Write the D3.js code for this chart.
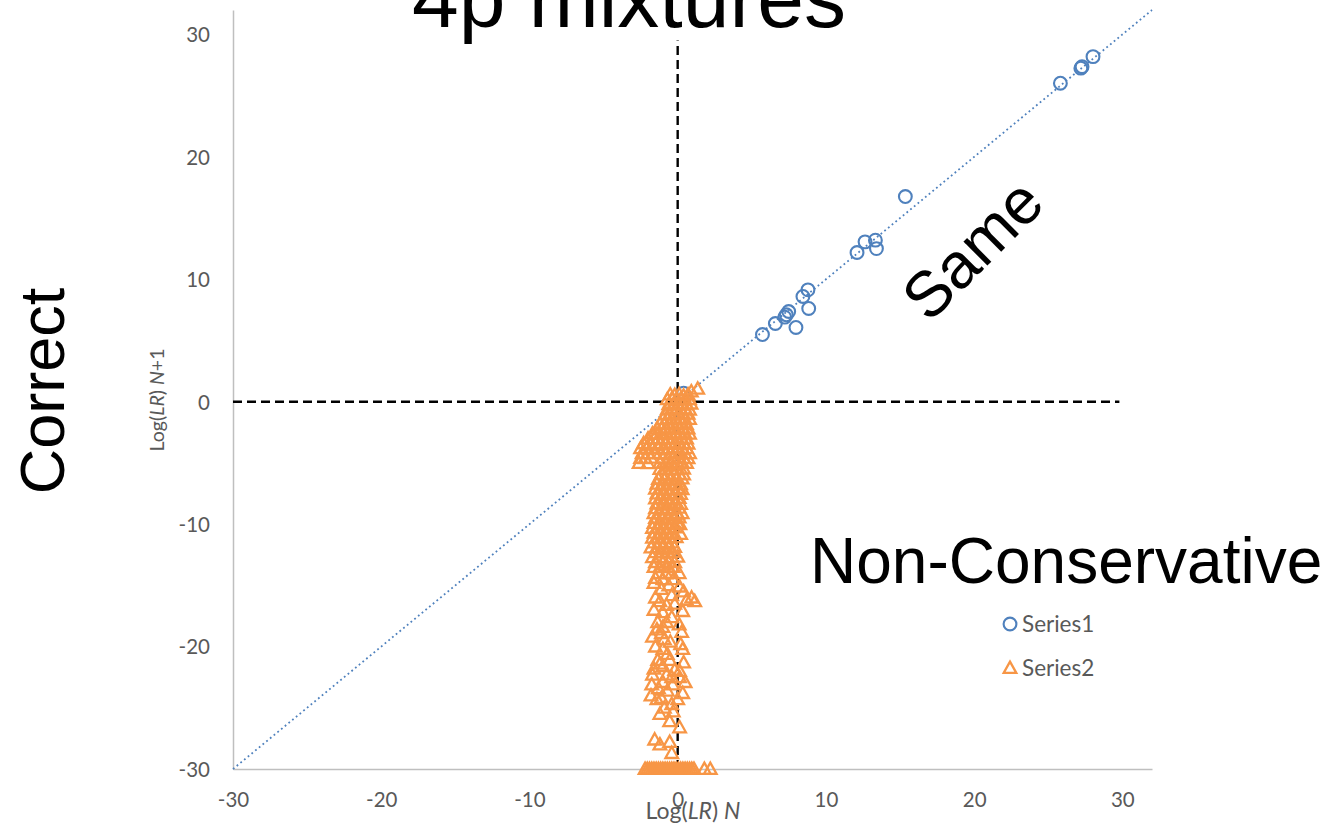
<!DOCTYPE html>
<html>
<head>
<meta charset="utf-8">
<script src="https://cdn.jsdelivr.net/npm/d3@7"></script>
<style>
  html, body { margin: 0; padding: 0; background: #fff; }
  svg { display: block; }
</style>
</head>
<body>
<svg id="chart" width="1328" height="823"></svg>
<script>
// Log(LR) with N contributors (x) against N+1 contributors (y)
const tickValues = [-30, -20, -10, 0, 10, 20, 30];
const axisDomain = [-30, 32];

// Series1: pairs [logLR N, logLR N+1]
const series1 = [
  [28.02, 28.19], [27.28, 27.37], [27.2, 27.25], [25.82, 26.02],
  [15.36, 16.76], [12.64, 13.06], [13.34, 13.2], [13.41, 12.51], [12.10, 12.19],
  [8.79, 9.14], [8.45, 8.6], [8.84, 7.62], [7.49, 7.37], [7.33, 7.1], [7.22, 6.91],
  [7.98, 6.07], [6.59, 6.39], [5.72, 5.49], [0.4, 0.7]
];

// Series2: pairs [logLR N, logLR N+1]
const series2 = [
  [1.35, 1.06], [0.92, 0.84],
  [-0.5, 0.6], [-0.2, 0.55], [0.1, 0.62], [0.4, 0.5], [0.7, 0.6],
  [-0.7, 0.2], [-0.4, 0.25], [-0.1, 0.15], [0.2, 0.22], [0.5, 0.18], [0.8, 0.2],
  [-0.6, -0.2], [-0.3, -0.25], [0.0, -0.18], [0.3, -0.2], [0.6, -0.22], [0.9, -0.15],
  [-0.7, -0.6], [-0.4, -0.55], [-0.1, -0.62], [0.2, -0.6], [0.5, -0.58], [0.8, -0.65],
  [-0.8, -1.0], [-0.5, -1.05], [-0.2, -0.95], [0.1, -1.0], [0.4, -1.02], [0.7, -0.98],
  [-1.0, -1.4], [-0.7, -1.38], [-0.4, -1.45], [-0.1, -1.4], [0.2, -1.35], [0.5, -1.42], [0.8, -1.4],
  [-1.2, -1.8], [-0.9, -1.82], [-0.6, -1.78], [-0.3, -1.85], [0.0, -1.8], [0.3, -1.76], [0.6, -1.84],
  [-1.4, -2.2], [-1.1, -2.18], [-0.8, -2.25], [-0.5, -2.2], [-0.2, -2.15], [0.1, -2.22], [0.4, -2.2], [0.7, -2.18],
  [-1.7, -2.6], [-1.4, -2.62], [-1.0, -2.58], [-0.7, -2.6], [-0.4, -2.65], [-0.1, -2.6], [0.2, -2.55], [0.5, -2.6], [0.8, -2.62],
  [-2.0, -3.0], [-1.6, -3.02], [-1.3, -2.98], [-1.0, -3.05], [-0.6, -3.0], [-0.3, -2.95], [0.0, -3.0], [0.3, -3.04], [0.6, -3.0],
  [-2.3, -3.4], [-1.9, -3.38], [-1.5, -3.42], [-1.2, -3.4], [-0.8, -3.36], [-0.5, -3.4], [-0.2, -3.45], [0.1, -3.4], [0.4, -3.38], [0.7, -3.42],
  [-2.5, -3.8], [-2.1, -3.82], [-1.7, -3.78], [-1.3, -3.8], [-0.9, -3.85], [-0.6, -3.8], [-0.3, -3.76], [0.0, -3.8], [0.3, -3.82], [0.6, -3.8],
  [-2.4, -4.2], [-2.0, -4.22], [-1.6, -4.18], [-1.2, -4.2], [-0.8, -4.25], [-0.5, -4.2], [-0.2, -4.16], [0.1, -4.2], [0.5, -4.22], [0.8, -4.2],
  [-2.5, -4.6], [-2.2, -4.62], [-1.8, -4.58], [-1.0, -4.6], [-0.6, -4.65], [-0.3, -4.6], [0.0, -4.56], [0.4, -4.6], [0.7, -4.62],
  [-2.6, -5.0], [-2.0, -5.02], [-1.2, -4.98], [-0.8, -5.0], [-0.4, -5.05], [0.0, -5.0], [0.3, -4.96], [0.6, -5.0],
  [-1.2, -5.5], [-0.8, -5.48], [-0.4, -5.52], [0.0, -5.5], [0.4, -5.46],
  [-1.1, -5.9], [-0.7, -5.92], [-0.3, -5.88], [0.1, -5.9], [0.4, -5.94],
  [-1.3, -6.3], [-0.9, -6.28], [-0.5, -6.32], [-0.1, -6.3], [0.3, -6.26],
  [-1.4, -6.7], [-1.0, -6.72], [-0.6, -6.68], [-0.2, -6.7], [0.2, -6.74],
  [-1.5, -7.1], [-1.1, -7.08], [-0.7, -7.12], [-0.3, -7.1], [0.1, -7.06], [0.3, -7.14],
  [-1.4, -7.5], [-1.0, -7.52], [-0.6, -7.48], [-0.2, -7.5], [0.2, -7.54],
  [-1.5, -7.9], [-1.1, -7.88], [-0.7, -7.92], [-0.3, -7.9], [0.1, -7.86],
  [-1.4, -8.3], [-1.0, -8.32], [-0.6, -8.28], [-0.2, -8.3], [0.2, -8.34],
  [-1.5, -8.7], [-1.1, -8.68], [-0.7, -8.72], [-0.3, -8.7], [0.1, -8.66],
  [-1.6, -9.1], [-1.2, -9.12], [-0.8, -9.08], [-0.4, -9.1], [0.0, -9.14], [0.3, -9.1],
  [-1.5, -9.5], [-1.1, -9.48], [-0.7, -9.52], [-0.3, -9.5], [0.1, -9.46],
  [-1.6, -9.9], [-1.2, -9.92], [-0.8, -9.88], [-0.4, -9.9], [0.0, -9.94], [0.15, -10.0],
  [-1.7, -10.3], [-1.3, -10.28], [-0.9, -10.32], [-0.5, -10.3], [-0.1, -10.26],
  [-1.6, -10.7], [-1.2, -10.72], [-0.8, -10.68], [-0.4, -10.7], [0.2, -10.8],
  [-1.7, -11.1], [-1.3, -11.08], [-0.9, -11.12], [-0.5, -11.1], [-0.1, -11.06],
  [-1.6, -11.5], [-1.2, -11.52], [-0.8, -11.48], [-0.4, -11.5],
  [-1.8, -11.9], [-1.4, -11.88], [-1.0, -11.92], [-0.6, -11.9], [-0.2, -11.86],
  [-1.5, -12.3], [-1.1, -12.32], [-0.7, -12.28], [-0.3, -12.3],
  [-1.7, -12.7], [-1.2, -12.68], [-0.8, -12.72], [-0.4, -12.7], [0.0, -12.66],
  [-1.5, -13.1], [-1.0, -13.12], [-0.6, -13.08], [-0.2, -13.1],
  [-1.6, -13.5], [-1.2, -13.52], [-0.7, -13.48], [-0.3, -13.5],
  [-1.3, -14.0], [-0.8, -14.02], [-0.4, -13.98], [0.1, -14.0],
  [-1.5, -14.4], [-1.0, -14.5], [-0.3, -14.5], [0.13, -15.1],
  [-1.1, -15.3], [-0.4, -15.8], [0.94, -16.0], [1.15, -16.3], [-1.2, -16.3],
  [-0.75, -16.6], [0.34, -17.1], [-1.0, -17.2], [-1.35, -18.0], [-0.75, -18.0],
  [0.27, -18.8], [-1.1, -18.9], [-1.4, -18.6], [-0.9, -19.4], [0.34, -20.2],
  [-1.0, -20.2], [-1.35, -21.1], [-0.54, -21.1], [-1.0, -21.6], [-0.2, -21.9],
  [0.13, -22.0], [-1.7, -22.3], [-0.75, -22.3], [0.13, -22.5], [-1.75, -23.1],
  [-1.0, -22.9], [-0.34, -23.1], [0.34, -23.8], [-1.4, -24.3], [-1.1, -24.2],
  [-0.4, -24.7], [-0.54, -26.1], [0.13, -26.6], [-1.55, -27.6], [-1.2, -28.0],
  [-0.54, -27.8], [-0.4, -28.7],
  [-1.6, -14.8], [-0.6, -15.0], [0.4, -15.5], [-1.5, -16.0], [-0.2, -16.5],
  [0.6, -16.2], [-1.6, -17.0], [-0.4, -17.6], [0.1, -18.2], [-1.0, -18.4],
  [-1.7, -19.2], [-0.5, -19.6], [0.2, -19.8], [-1.5, -20.0], [-0.7, -20.6],
  [-1.2, -21.4], [0.4, -21.3], [-1.6, -21.8], [-0.4, -22.5], [-1.3, -23.4],
  [-0.7, -23.6], [0.5, -22.9], [-1.8, -24.0], [-0.9, -25.0], [0.0, -24.3],
  [-1.2, -25.5], [-0.3, -25.3],
  [-2.2, -30], [-2.05, -30], [-1.9, -30], [-1.75, -30], [-1.6, -30], [-1.45, -30],
  [-1.3, -30], [-1.15, -30], [-1.0, -30], [-0.85, -30], [-0.7, -30], [-0.55, -30],
  [-0.4, -30], [-0.25, -30], [-0.1, -30], [0.05, -30], [0.2, -30], [0.35, -30],
  [0.5, -30], [0.65, -30], [0.8, -30], [0.95, -30], [1.1, -30],
  [1.8, -30], [2.2, -30]
];

// Reference guides: y = x trend and the two zero lines
const diagonalLine = [[-30, -30], [32, 32]];
const verticalGuide = [[0, -30], [0, 29.5]];
const horizontalGuide = [[-30, 0], [29.8, 0]];

const legendItems = ["Series1", "Series2"];

const blue = "#4F81BD";
const orange = "#F79646";
const tickColor = "#595959";
const axisColor = "#BFBFBF";
const labelFont = "Lato, 'Open Sans', sans-serif";
const bigFont = "'Liberation Sans', Arial, sans-serif";

const svg = d3.select("#chart");

const x = d3.scaleLinear().domain(axisDomain).range([233, 1152]);
const y = d3.scaleLinear().domain(axisDomain).range([769, 10]);

const fmt = d => String(d);

// Axes
const xAxis = svg.append("g")
  .attr("transform", `translate(0,${y(-30)})`)
  .call(d3.axisBottom(x).tickValues(tickValues).tickSize(0).tickPadding(23).tickFormat(fmt));
const yAxis = svg.append("g")
  .attr("transform", `translate(${x(-30)},0)`)
  .call(d3.axisLeft(y).tickValues(tickValues).tickSize(0).tickPadding(23).tickFormat(fmt));

[xAxis, yAxis].forEach(g => {
  g.select(".domain").attr("stroke", axisColor).attr("stroke-width", 1.5);
  g.selectAll("text").attr("fill", tickColor).style("font-family", labelFont).style("font-size", "20.5px");
});
yAxis.selectAll("text").attr("dy", "0.36em");

// Dashed zero guides
const line = d3.line().x(d => x(d[0])).y(d => y(d[1]));
[verticalGuide, horizontalGuide].forEach(seg => {
  svg.append("path")
    .attr("d", line(seg))
    .attr("fill", "none")
    .attr("stroke", "#000")
    .attr("stroke-width", 2.4)
    .attr("stroke-dasharray", "9,5");
});

// Dotted y = x trend
svg.append("path")
  .attr("d", line(diagonalLine))
  .attr("fill", "none")
  .attr("stroke", blue)
  .attr("stroke-width", 1.8)
  .attr("stroke-dasharray", "1.8,3");

// Series1 circles
svg.append("g").selectAll("circle")
  .data(series1)
  .join("circle")
  .attr("cx", d => x(d[0]))
  .attr("cy", d => y(d[1]))
  .attr("r", 6.4)
  .attr("fill", "none")
  .attr("stroke", blue)
  .attr("stroke-width", 2.1);

// Series2 triangles
const tri = "M0,-6.4L6.3,4.9L-6.3,4.9Z";
svg.append("g").selectAll("path")
  .data(series2)
  .join("path")
  .attr("d", tri)
  .attr("transform", d => `translate(${x(d[0])},${y(d[1])})`)
  .attr("fill", "none")
  .attr("stroke", orange)
  .attr("stroke-width", 2.3)
  .attr("stroke-linejoin", "miter");

// Axis titles
const xTitle = svg.append("text")
  .attr("x", 693).attr("y", 819)
  .attr("text-anchor", "middle")
  .attr("fill", tickColor)
  .style("font-family", labelFont).style("font-size", "23px");
xTitle.append("tspan").text("Log(");
xTitle.append("tspan").style("font-style", "italic").text("LR");
xTitle.append("tspan").text(") ");
xTitle.append("tspan").style("font-style", "italic").text("N");

const yTitle = svg.append("text")
  .attr("transform", "translate(157,400) rotate(-90)")
  .attr("text-anchor", "middle")
  .attr("dy", "0.35em")
  .attr("fill", tickColor)
  .style("font-family", labelFont).style("font-size", "19.5px");
yTitle.append("tspan").text("Log(");
yTitle.append("tspan").style("font-style", "italic").text("LR");
yTitle.append("tspan").text(") ");
yTitle.append("tspan").style("font-style", "italic").text("N");
yTitle.append("tspan").text("+1");

// Large annotations
svg.append("text")
  .attr("x", 629).attr("y", 27)
  .attr("text-anchor", "middle")
  .style("font-family", bigFont).style("font-size", "84px")
  .text("4p mixtures");

svg.append("text")
  .attr("transform", "translate(64,391) rotate(-90)")
  .attr("text-anchor", "middle")
  .style("font-family", bigFont).style("font-size", "63px")
  .text("Correct");

svg.append("text")
  .attr("transform", "translate(988,265) rotate(-45)")
  .attr("text-anchor", "middle")
  .style("font-family", bigFont).style("font-size", "64px")
  .text("Same");

svg.append("text")
  .attr("x", 810).attr("y", 583)
  .style("font-family", bigFont).style("font-size", "64px")
  .text("Non-Conservative");

// Legend
const legend = svg.append("g");
legendItems.forEach((name, i) => {
  const cy = 624 + i * 44;
  if (i === 0) {
    legend.append("circle").attr("cx", 1010).attr("cy", cy).attr("r", 6.4)
      .attr("fill", "none").attr("stroke", blue).attr("stroke-width", 2.1);
  } else {
    legend.append("path").attr("d", tri).attr("transform", `translate(1010,${cy})`)
      .attr("fill", "none").attr("stroke", orange).attr("stroke-width", 2.3);
  }
  legend.append("text")
    .attr("x", 1022).attr("y", cy).attr("dy", "0.36em")
    .attr("fill", tickColor)
    .style("font-family", labelFont).style("font-size", "22.5px")
    .text(name);
});
</script>
</body>
</html>
